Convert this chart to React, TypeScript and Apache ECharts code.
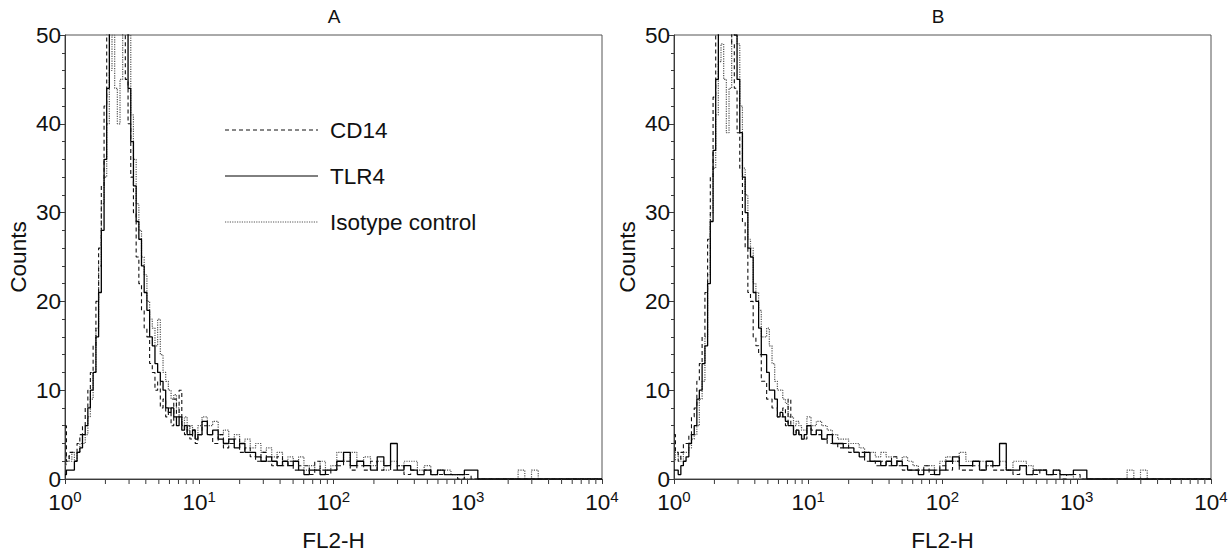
import React, { useEffect, useRef } from "react";
import * as echarts from "echarts";

const FONT = '"Liberation Sans", Arial, Helvetica, sans-serif';

// FL2-H channel positions (bin centres)
const X = [
  1.00, 1.05, 1.10, 1.15, 1.20, 1.26, 1.32, 1.38, 1.45, 1.51,
  1.58, 1.66, 1.74, 1.82, 1.91, 2.00, 2.09, 2.19, 2.29, 2.40,
  2.51, 2.63, 2.75, 2.88, 3.02, 3.16, 3.31, 3.47, 3.63, 3.80,
  3.98, 4.17, 4.37, 4.57, 4.79, 5.01, 5.25, 5.50, 5.75, 6.03,
  6.31, 6.61, 6.92, 7.24, 7.59, 7.94, 8.32, 8.71, 9.12, 9.55,
  10.0, 11.0, 12.0, 13.2, 14.5, 15.8, 17.4, 19.1, 20.9, 22.9,
  25.1, 27.5, 30.2, 33.1, 36.3, 39.8, 43.7, 47.9, 52.5, 57.5,
  63.1, 69.2, 75.9, 83.2, 91.2, 100, 112, 126, 141, 158,
  178, 200, 224, 251, 282, 316, 355, 398, 447, 501,
  562, 631, 708, 794, 891, 1000, 1122, 1259, 1413, 1585,
  1778, 1995, 2239, 2512, 2818, 3162, 3548, 3981, 4467, 5012,
  5623, 6310, 7079, 7943, 8913, 10000,
];

// Panel A
const CD14_A = [
  6, 2, 3, 3, 3, 4, 5, 6, 8, 10,
  12, 15, 20, 26, 33, 42, 52, 56, 58, 55,
  57, 53, 50, 45, 40, 34, 30, 25, 22, 19,
  17, 16, 13, 12, 10, 11, 8, 9, 7, 8,
  6, 9, 7, 10, 6, 5, 6, 4.5, 5.5, 4,
  5, 6, 5, 4, 5, 3.5, 4, 4.5, 3, 3.5,
  2.5, 2, 3, 2, 1.5, 2.5, 1.5, 2, 1, 1.5,
  1.5, 0.5, 2, 1, 0.5, 1, 1.5, 2, 1, 1.5,
  1, 2, 1, 1.5, 1, 1.5, 0.5, 1, 0.5, 1,
  0.5, 0.5, 0.5, 0.5, 0, 0.5, 0, 0, 0, 0,
  0, 0, 0, 0, 0, 0, 0, 0, 0, 0,
  0, 0, 0, 0, 0, 0,
];
const TLR4_A = [
  0.5, 1, 1, 1, 2, 3, 3.5, 5, 6, 8,
  10, 12, 16, 21, 28, 36, 44, 52, 56, 60,
  58, 59, 55, 51, 44, 38, 33, 29, 27, 24,
  21, 19, 16, 15, 13, 12, 11, 10, 8, 7.5,
  8, 7, 6, 7, 5.5, 6, 5, 5, 5.5, 4.5,
  5, 6.5, 5, 5.5, 4.5, 4, 4.5, 3.5, 4, 3,
  3, 2.5, 2, 2.5, 2, 1.5, 2, 1.5, 2, 1,
  0.5, 1, 1, 0.5, 1, 1, 2, 3, 1.5, 2,
  1.5, 1, 2.5, 1.5, 4, 1, 1.5, 1, 0.5, 1,
  0.5, 1, 0.5, 0.5, 0.5, 1, 1, 0, 0, 0,
  0, 0, 0, 0, 0, 0, 0, 0, 0, 0,
  0, 0, 0, 0, 0, 0,
];
const ISO_A = [
  1.5, 2.5, 2, 3, 2, 3, 4, 4, 5, 7,
  9, 12, 17, 24, 31, 34, 40, 46, 50, 44,
  40, 45, 52, 55, 50, 41, 36, 31, 28, 25,
  23, 20, 18, 17, 15, 18, 14, 12, 11, 10,
  9, 9.5, 8, 7, 6, 7, 5.5, 6, 5.5, 5,
  6, 7, 6, 6.5, 5, 5.5, 4, 5, 4, 4.5,
  3.5, 4, 3, 3.5, 2.5, 3, 2, 2.5, 2, 2.5,
  1, 1.5, 1, 2, 1, 1.5, 3, 2, 3, 2,
  2.5, 1.5, 2, 1, 2, 1.5, 2, 2, 1, 1.5,
  0.5, 1, 1, 0.5, 0.5, 0, 0, 0, 0, 0,
  0, 0, 0, 1, 0, 1, 0, 0, 0, 0,
  0, 0, 0, 0, 0, 0,
];

// Panel B
const CD14_B = [
  5, 3, 2, 3, 4, 4, 5, 7, 8, 11,
  13, 16, 21, 27, 34, 43, 51, 57, 55, 58,
  54, 52, 49, 44, 39, 35, 29, 26, 21, 20,
  16, 15, 14, 11, 11, 9, 9, 8, 8, 7,
  7, 8, 6, 9, 6, 5, 5.5, 5, 4.5, 4.5,
  6, 5.5, 5, 4.5, 4, 4, 3.5, 4, 3, 3,
  3, 2, 2, 1.5, 2, 1.5, 2.5, 1.5, 1, 1,
  1, 1, 1.5, 0.5, 1, 1.5, 1, 2, 1, 1,
  1.5, 1, 1.5, 1, 1, 1, 0.5, 1.5, 0.5, 0.5,
  1, 0.5, 0.5, 0, 0.5, 0.5, 0, 0, 0, 0,
  0, 0, 0, 0, 0, 0, 0, 0, 0, 0,
  0, 0, 0, 0, 0, 0,
];
const TLR4_B = [
  1, 1, 0.5, 1.5, 2, 2.5, 4, 5, 6, 9,
  10, 13, 15, 22, 29, 37, 45, 53, 58, 59,
  60, 57, 56, 50, 45, 39, 34, 30, 26, 25,
  21, 20, 17, 14, 14, 12, 10, 10, 9, 7,
  7.5, 7, 6.5, 6, 6, 5, 5.5, 5, 4.5, 5,
  6, 5, 5.5, 4.5, 5, 4, 4, 3.5, 3.5, 3,
  2.5, 3, 2, 2, 1.5, 2, 1.5, 2, 1.5, 1,
  1, 0.5, 1, 1, 0.5, 1, 2, 2.5, 1.5, 1.5,
  2, 1, 2, 1.5, 4, 1, 1, 1.5, 0.5, 1,
  1, 0.5, 1, 0.5, 0.5, 1, 1, 0, 0, 0,
  0, 0, 0, 0, 0, 0, 0, 0, 0, 0,
  0, 0, 0, 0, 0, 0,
];
const ISO_B = [
  2, 3, 2.5, 2, 3, 3, 3.5, 4.5, 5, 6,
  9, 11, 16, 23, 30, 35, 41, 47, 49, 45,
  39, 44, 51, 56, 49, 42, 35, 32, 27, 26,
  22, 21, 19, 16, 16, 17, 15, 13, 11, 10,
  10, 9, 8.5, 7, 7, 6, 6.5, 6, 5.5, 5.5,
  7, 6, 6.5, 6, 5.5, 5, 4.5, 4.5, 4, 4,
  3.5, 3, 3, 2.5, 3, 2.5, 2.5, 2, 2.5, 2,
  1.5, 1, 1.5, 1.5, 1, 2, 2.5, 2, 3, 2,
  2, 2, 1.5, 1.5, 2, 1, 2, 2, 1.5, 1,
  1, 0.5, 1, 0.5, 0.5, 0, 0, 0, 0, 0,
  0, 0, 0, 1, 0, 1, 0, 0, 0, 0,
  0, 0, 0, 0, 0, 0,
];

const PANEL_TITLES = ["A", "B"];
const LEGEND_NAMES = ["CD14", "TLR4", "Isotype control"];
const X_MINOR_TICKS = [
  2, 3, 4, 5, 6, 7, 8, 9,
  20, 30, 40, 50, 60, 70, 80, 90,
  200, 300, 400, 500, 600, 700, 800, 900,
  2000, 3000, 4000, 5000, 6000, 7000, 8000, 9000,
];

const AXIS_COLOR = "#3a3a3a";
const TEXT_COLOR = "#111";
const FS = 22.5;

const GRIDS = [
  { left: 65, top: 35, width: 537, height: 444 },
  { left: 674, top: 35, width: 537, height: 444 },
];
const TITLE_X = [334, 938];

const STYLES = [
  { name: LEGEND_NAMES[2], color: "#555", type: [1.2, 1.2], width: 1.2 },
  { name: LEGEND_NAMES[1], color: "#000", type: "solid", width: 1.3 },
  { name: LEGEND_NAMES[0], color: "#111", type: [4, 3], width: 1.1 },
];

function buildOption() {
  const panels = [
    [ISO_A, TLR4_A, CD14_A],
    [ISO_B, TLR4_B, CD14_B],
  ];
  const series: any[] = [];
  panels.forEach((arrs, p) => {
    arrs.forEach((arr, k) => {
      const st = STYLES[k];
      series.push({
        type: "line",
        name: st.name,
        xAxisIndex: p,
        yAxisIndex: p,
        step: "middle",
        symbol: "none",
        clip: true,
        silent: true,
        lineStyle: { color: st.color, width: st.width, type: st.type },
        data: X.map((x, i) => [x, arr[i]]),
      });
    });
    series.push({
      type: "custom",
      xAxisIndex: p,
      yAxisIndex: p,
      clip: false,
      silent: true,
      z: 10,
      renderItem: (params: any, api: any) => {
        const pt = api.coord([api.value(0), 0]);
        return {
          type: "line",
          shape: { x1: pt[0], y1: pt[1], x2: pt[0], y2: pt[1] + 5 },
          style: { stroke: AXIS_COLOR, lineWidth: 1 },
        };
      },
      data: X_MINOR_TICKS.map((t) => [t, 0]),
    });
  });

  const xAxis = GRIDS.map((_, p) => ({
    type: "log",
    gridIndex: p,
    logBase: 10,
    min: 1,
    max: 10000,
    interval: 1,
    name: "FL2-H",
    nameLocation: "middle",
    nameGap: 50,
    nameMoveOverlap: false,
    nameTextStyle: { fontFamily: FONT, fontSize: FS, color: TEXT_COLOR },
    axisLine: { show: true, lineStyle: { color: AXIS_COLOR, width: 1 } },
    axisTick: { show: true, inside: false, length: 5, lineStyle: { color: AXIS_COLOR } },
    minorTick: { show: false },
    splitLine: { show: false },
    axisLabel: {
      margin: 10,
      formatter: (v: number) => {
        const e = Math.round(Math.log10(v));
        return `{b|10}{s|${e}}`;
      },
      rich: {
        b: { fontFamily: FONT, fontSize: FS, color: TEXT_COLOR, lineHeight: 24 },
        s: { fontFamily: FONT, fontSize: 15, color: TEXT_COLOR, padding: [0, 0, 11, 0] },
      },
    },
  }));

  const yAxis = GRIDS.map((_, p) => ({
    type: "value",
    gridIndex: p,
    min: 0,
    max: 50,
    interval: 10,
    name: "Counts",
    nameLocation: "middle",
    nameGap: 35,
    nameMoveOverlap: false,
    nameTextStyle: { fontFamily: FONT, fontSize: FS, color: TEXT_COLOR },
    axisLine: { show: true, lineStyle: { color: AXIS_COLOR, width: 1 } },
    axisTick: { show: true, inside: false, length: 5, lineStyle: { color: AXIS_COLOR } },
    minorTick: { show: true, splitNumber: 5, length: 3, lineStyle: { color: AXIS_COLOR } },
    splitLine: { show: false },
    axisLabel: { margin: 4, fontFamily: FONT, fontSize: FS, color: TEXT_COLOR, lineHeight: 18 },
  }));

  const graphic: any[] = [];
  GRIDS.forEach((g, p) => {
    graphic.push({
      type: "text",
      x: TITLE_X[p],
      y: 16,
      silent: true,
      style: {
        text: PANEL_TITLES[p],
        fontFamily: FONT,
        fontSize: 19,
        fill: TEXT_COLOR,
        align: "center",
        verticalAlign: "middle",
      },
    });
  });
  const legendRows = [
    { y: 130, text: LEGEND_NAMES[0], color: "#111", dash: [4, 3] },
    { y: 176, text: LEGEND_NAMES[1], color: "#000", dash: null },
    { y: 222, text: LEGEND_NAMES[2], color: "#555", dash: [1.2, 1.2] },
  ];
  legendRows.forEach((r) => {
    graphic.push({
      type: "line",
      silent: true,
      shape: { x1: 225, y1: r.y, x2: 318, y2: r.y },
      style: { stroke: r.color, lineWidth: 1, lineDash: r.dash || undefined },
    });
    graphic.push({
      type: "text",
      x: 330,
      y: r.y,
      silent: true,
      style: {
        text: r.text,
        fontFamily: FONT,
        fontSize: FS,
        fill: TEXT_COLOR,
        align: "left",
        verticalAlign: "middle",
      },
    });
  });

  return {
    animation: false,
    backgroundColor: "#ffffff",
    grid: GRIDS.map((g) => ({
      ...g,
      show: true,
      borderColor: "#555",
      borderWidth: 1,
      backgroundColor: "transparent",
      containLabel: false,
      outerBoundsMode: "none",
    })),
    xAxis,
    yAxis,
    series,
    graphic,
  };
}

export default function App() {
  const ref = useRef<HTMLDivElement>(null);
  useEffect(() => {
    if (!ref.current) return;
    const chart = echarts.init(ref.current, null, { renderer: "svg" });
    chart.setOption(buildOption() as any);
    return () => chart.dispose();
  }, []);
  return (
    <div
      ref={ref}
      style={{ position: "fixed", left: 0, top: 0, width: 1228, height: 552, background: "#fff" }}
    />
  );
}
